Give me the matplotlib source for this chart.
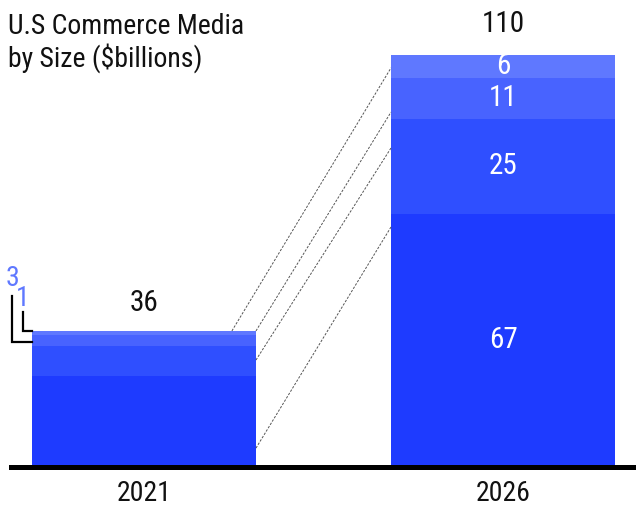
import matplotlib.pyplot as plt

plt.rcParams['font.family'] = ['Roboto Condensed', 'Archivo Narrow', 'Barlow Semi Condensed', 'DejaVu Sans']

years = ["2021", "2026"]
# stacked segments, bottom to top ($billions)
seg_2021 = [24, 8, 3, 1]
seg_2026 = [67, 25, 11, 6]
totals = [36, 110]
colors = ["#1e3bff", "#2f4fff", "#4863ff", "#5f78ff"]

# dashed guides: (level on 2021 bar, level on 2026 bar)
guides = [(36, 105.6), (36, 93.9), (28.3, 84.4), (5.0, 63.5)]

fig = plt.figure(figsize=(6.36, 5.07), dpi=100)
ax = fig.add_axes([11 / 636, 40 / 507, 625 / 636, 453.6 / 507])
ax.set_xlim(-0.37, 1.37)
ax.set_ylim(0, 120)
ax.axis("off")

width = 0.624
xs = [0, 1]
for x, segs in zip(xs, [seg_2021, seg_2026]):
    bottom = 0
    for i, v in enumerate(segs):
        ax.bar(x, v, width=width, bottom=bottom, color=colors[i], linewidth=0)
        if x == 1:
            ax.text(x, bottom + v / 2, str(v), ha="center", va="center",
                    color="white", fontsize=21)
        bottom += v

for x, t in zip(xs, totals):
    ax.text(x, t + 3.6, str(t), ha="center", va="bottom", fontsize=21, color="#111")

# connectors between the bars
half = width / 2
for i, (a, b) in enumerate(guides):
    x0 = half if i > 0 else 0.245
    ax.plot([x0, 1 - half], [a, b], color="#555555", lw=0.7,
            linestyle=(0, (2.5, 1.5)), zorder=1)

ax.axhline(0, color="black", lw=3.6, xmin=0, xmax=1, zorder=3, clip_on=False)

for x, yr in zip(xs, years):
    ax.text(x, -7, yr, ha="center", va="center", fontsize=20, color="#111")

# small-segment callouts on the left of 2021
left = -half
ax.plot([left, -0.367, -0.367], [33.2, 33.2, 45.2], color="black", lw=1.6,
        solid_joinstyle="miter", clip_on=False)
ax.plot([left, -0.337, -0.337], [36, 36, 41.0], color="black", lw=1.6,
        solid_joinstyle="miter", clip_on=False)
ax.text(-0.367, 50.0, str(seg_2021[2]), ha="center", va="center",
        fontsize=20, color=colors[3])
ax.text(-0.337, 44.6, str(seg_2021[3]), ha="center", va="center",
        fontsize=20, color=colors[3])

fig.text(8 / 636, 1 - 13 / 507, "U.S Commerce Media\nby Size ($billions)",
         ha="left", va="top", fontsize=20, color="#111", linespacing=1.15)

fig.savefig("out.png", dpi=100)
